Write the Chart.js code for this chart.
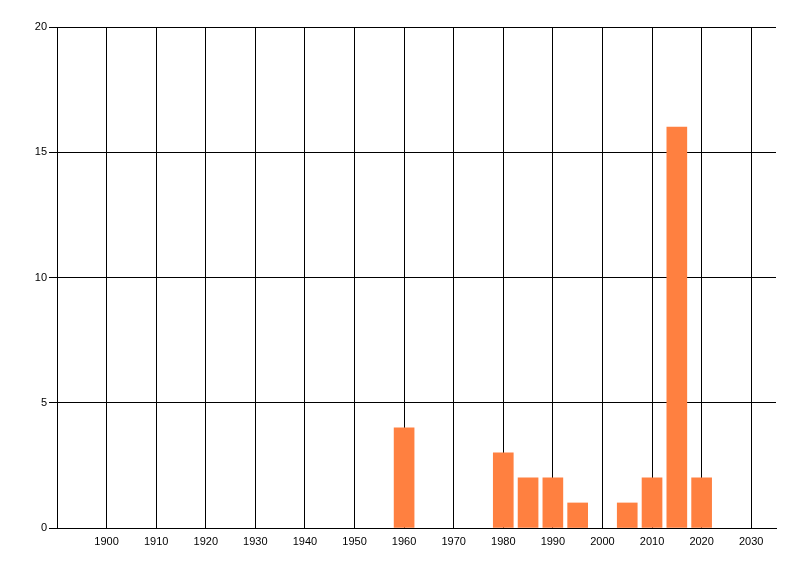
<!DOCTYPE html>
<html>
<head>
<meta charset="utf-8">
<script src="https://cdn.jsdelivr.net/npm/chart.js@4/dist/chart.umd.min.js"></script>
<style>
  html, body { margin: 0; padding: 0; background: #fff; }
  #wrap { width: 800px; height: 576px; }
</style>
</head>
<body>
<div id="wrap"><canvas id="chart" width="800" height="576"></canvas></div>
<script>
// bar positions (year) and heights
const years = [1960, 1980, 1985, 1990, 1995, 2005, 2010, 2015, 2020];
const counts = [4, 3, 2, 2, 1, 1, 2, 16, 2];

// axis ticks
const xTicks = [1900, 1910, 1920, 1930, 1940, 1950, 1960, 1970, 1980, 1990, 2000, 2010, 2020, 2030];
const yTicks = [0, 5, 10, 15, 20];

const font = { family: "'Liberation Sans', Arial, sans-serif", size: 11 };

const ctx = document.getElementById('chart').getContext('2d');
new Chart(ctx, {
    type: 'bar',
    data: {
        datasets: [{
            data: years.map((y, i) => ({ x: y, y: counts[i] })),
            backgroundColor: '#ff8040',
            borderWidth: 0,
            barThickness: 20
        }]
    },
    options: {
        responsive: false,
        animation: false,
        layout: { padding: { top: 27, right: 24, left: 0, bottom: 0 } },
        plugins: { legend: { display: false }, tooltip: { enabled: false } },
        scales: {
            x: {
                type: 'linear',
                min: 1890,
                max: 2035,
                offset: false,
                grid: { offset: false, color: '#000', lineWidth: 1, drawTicks: false },
                border: { color: '#000', width: 1 },
                afterBuildTicks: s => { s.ticks = xTicks.map(v => ({ value: v })); },
                afterFit: s => { s.height = 48; },
                ticks: {
                    autoSkip: false,
                    maxRotation: 0,
                    padding: 7,
                    color: '#000',
                    font: font,
                    callback: v => String(v)
                }
            },
            y: {
                min: 0,
                max: 20,
                grid: { color: '#000', lineWidth: 1, tickLength: 8 },
                border: { color: '#000', width: 1 },
                afterBuildTicks: s => { s.ticks = yTicks.map(v => ({ value: v })); },
                afterFit: s => { s.width = 57; },
                ticks: {
                    padding: 2,
                    color: '#000',
                    font: font,
                    callback: v => String(v)
                }
            }
        }
    }
});
</script>
</body>
</html>
